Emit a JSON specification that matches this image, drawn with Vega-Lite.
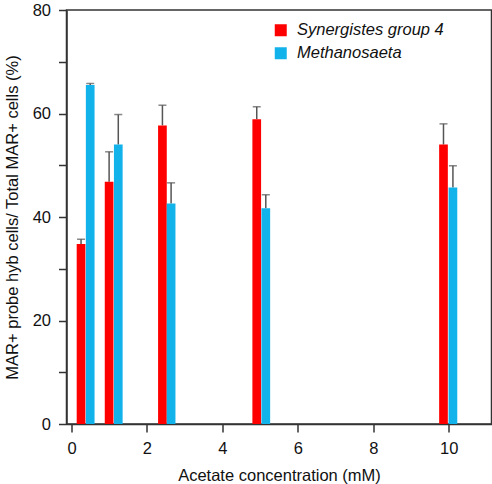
{
  "$schema": "https://vega.github.io/schema/vega-lite/v6.json",
  "width": 425,
  "height": 414,
  "autosize": {"type": "none"},
  "padding": {"left": 66.5, "top": 10, "right": 0, "bottom": 60},
  "background": "white",
  "config": {
    "font": "Liberation Sans",
    "view": {"stroke": "#333333", "strokeWidth": 1.5},
    "axis": {"domainColor": "#333333", "domainWidth": 1.5, "tickColor": "#333333", "tickWidth": 1.5, "tickSize": 8, "labelColor": "#111111", "titleColor": "#111111", "grid": false, "labelFontSize": 16.5, "titleFontSize": 16.5, "titleFontWeight": "normal", "labelPadding": 8}
  },
  "data": {
    "values": [
      {"pos": 0.253, "series": "Synergistes group 4", "value": 34.8, "upper": 35.7},
      {"pos": 0.496, "series": "Methanosaeta", "value": 65.5, "upper": 65.8},
      {"pos": 0.997, "series": "Synergistes group 4", "value": 46.8, "upper": 52.6},
      {"pos": 1.24, "series": "Methanosaeta", "value": 54.0, "upper": 59.8},
      {"pos": 2.41, "series": "Synergistes group 4", "value": 57.7, "upper": 61.6},
      {"pos": 2.64, "series": "Methanosaeta", "value": 42.6, "upper": 46.6},
      {"pos": 4.91, "series": "Synergistes group 4", "value": 58.9, "upper": 61.3},
      {"pos": 5.15, "series": "Methanosaeta", "value": 41.7, "upper": 44.3},
      {"pos": 9.86, "series": "Synergistes group 4", "value": 54.0, "upper": 58.0},
      {"pos": 10.11, "series": "Methanosaeta", "value": 45.7, "upper": 49.9}
    ]
  },
  "encoding": {
    "x": {"field": "pos", "type": "quantitative", "scale": {"domain": [0, 11], "nice": false, "zero": false},
      "axis": {"values": [0, 2, 4, 6, 8, 10], "title": "Acetate concentration (mM)", "labelPadding": 8, "titlePadding": 11}},
    "y": {"field": "value", "type": "quantitative", "scale": {"domain": [0, 80], "nice": false},
      "axis": {"values": [0, 10, 20, 30, 40, 50, 60, 70, 80], "labelExpr": "datum.value % 20 == 0 ? datum.label : ''", "title": "MAR+ probe hyb cells/ Total MAR+ cells (%)", "titlePadding": 12}}
  },
  "layer": [
    {
      "mark": {"type": "rule", "color": "#555555", "strokeWidth": 1.5},
      "encoding": {"y2": {"field": "upper"}}
    },
    {
      "mark": {"type": "tick", "orient": "horizontal", "color": "#555555", "size": 8, "thickness": 1.5},
      "encoding": {"y": {"field": "upper", "type": "quantitative"}}
    },
    {
      "mark": {"type": "bar", "size": 8.7},
      "encoding": {
        "color": {"field": "series", "type": "nominal",
          "scale": {"domain": ["Synergistes group 4", "Methanosaeta"], "range": ["#ff0000", "#12b2ea"]},
          "legend": {"title": null, "orient": "none", "legendX": 206, "legendY": 12, "padding": 0,
            "symbolType": "square", "symbolSize": 144, "symbolStrokeWidth": 0, "symbolOpacity": 1,
            "labelFontSize": 16.5, "labelFontStyle": "italic", "labelColor": "#111111", "labelOffset": 8, "rowPadding": 6, "labelLimit": 300}}
      }
    }
  ]
}
